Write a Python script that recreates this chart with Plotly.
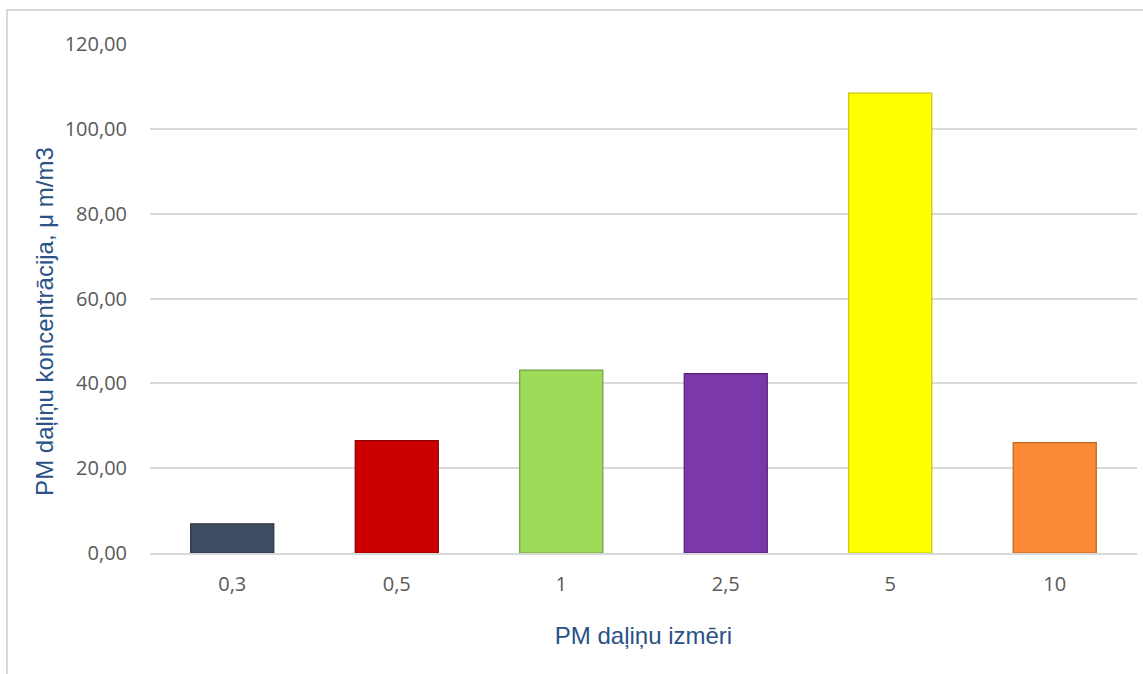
import plotly.graph_objects as go

# PM particle size classes and measured concentrations
sizes = ["0,3", "0,5", "1", "2,5", "5", "10"]
concentration = [6.9, 26.5, 43.1, 42.3, 108.4, 26.0]
bar_colors = ["#3E4C61", "#CC0000", "#9DDB59", "#7A38A8", "#FFFF00", "#FB8A38"]
edge_colors = ["#263241", "#8F0000", "#6E9E3A", "#56237A", "#C8C800", "#C4621F"]
y_ticks = [0, 20, 40, 60, 80, 100, 120]

title_font = dict(family="Liberation Sans, Arial", size=24, color="#2A5286")
tick_font = dict(family="Open Sans, Lato", size=20, color="#595959")

fig = go.Figure(
    go.Bar(
        x=sizes,
        y=concentration,
        marker=dict(color=bar_colors, line=dict(color=edge_colors, width=1.2)),
        width=0.505,
        hovertemplate="%{x}: %{y:.2f}<extra></extra>",
    )
)

fig.update_layout(
    width=1143,
    height=674,
    margin=dict(l=150, r=6, t=44, b=121),
    paper_bgcolor="white",
    plot_bgcolor="white",
    separators=", ",
    showlegend=False,
    xaxis=dict(
        title=dict(text="PM daļiņu izmēri", font=title_font, standoff=31),
        type="category",
        tickfont=tick_font,
        showline=True,
        linecolor="#D9D9D9",
        linewidth=2,
        ticks="",
        ticklabelstandoff=12,
        showgrid=False,
    ),
    yaxis=dict(
        range=[0, 120],
        tickvals=y_ticks,
        tickformat=".2f",
        tickfont=tick_font,
        gridcolor="#D9D9D9",
        gridwidth=1.5,
        zeroline=False,
        ticks="",
        ticklabelstandoff=22,
    ),
    # vertical axis title placed a little below the plot-area centre
    annotations=[
        dict(
            text="PM daļiņu koncentrācija, μ m/m3",
            font=title_font,
            textangle=-90,
            xref="paper",
            yref="paper",
            x=-0.1064,
            y=0.456,
            xanchor="center",
            yanchor="middle",
            showarrow=False,
        )
    ],
    shapes=[
        dict(
            type="rect",
            xref="paper",
            yref="paper",
            x0=-0.1449,
            x1=1.0075,
            y0=-0.3,
            y1=1.0668,
            line=dict(color="#D9D9D9", width=2),
            fillcolor="rgba(0,0,0,0)",
            layer="below",
        )
    ],
)

fig.write_html("out.html")
